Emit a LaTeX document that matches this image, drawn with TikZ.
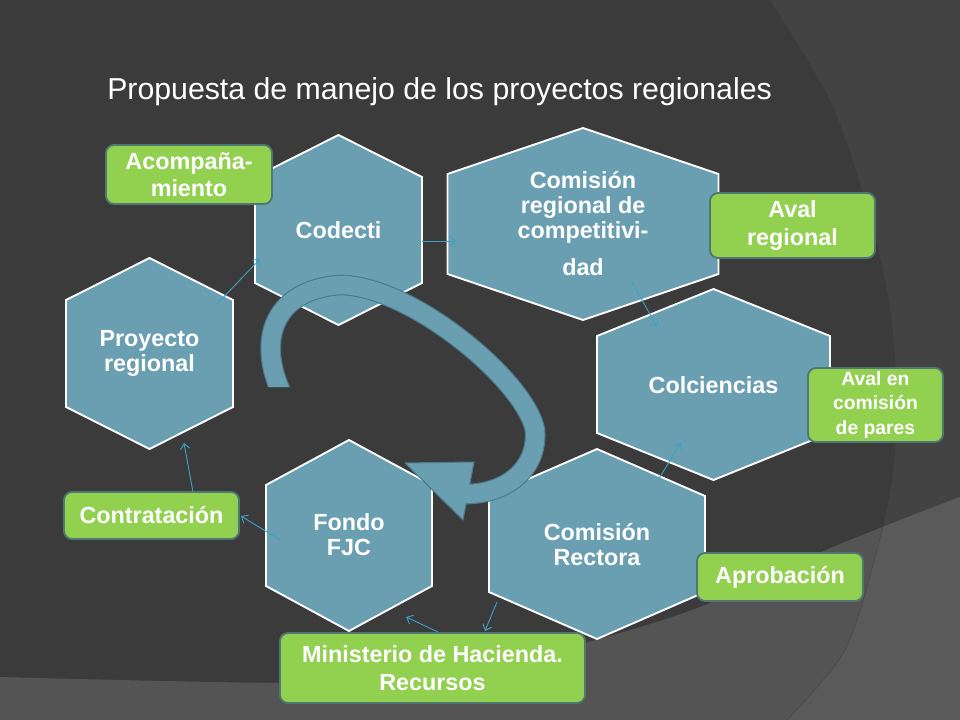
\documentclass[tikz,border=0pt]{standalone}
\usepackage{fontspec}
\setmainfont{Liberation Sans}
\usetikzlibrary{arrows.meta}
\definecolor{bgdark}{HTML}{3B3B3B}
\definecolor{bgright}{HTML}{434343}
\definecolor{bgbottom}{HTML}{545454}
\definecolor{bgbottomr}{HTML}{5A5A5A}
\definecolor{hexfill}{HTML}{6A9FB1}
\definecolor{hexdark}{HTML}{4A7B8C}
\definecolor{boxgreen}{HTML}{92D050}
\definecolor{boxedge}{HTML}{4F7873}
\definecolor{connblue}{HTML}{3FA0C4}
\tikzset{
 hexshape/.style={fill=hexfill, draw=white, line width=1.4pt, line join=miter},
 hextext/.style={text=white, font=\bfseries\fontsize{17.5}{18.75}\selectfont, align=center, inner sep=0pt},
 gbox/.style={fill=boxgreen, draw=boxedge, line width=1.4pt, rounded corners=6pt, text=white,
   font=\bfseries\fontsize{17.5}{20.5}\selectfont, align=center, inner sep=0pt},
 conn/.style={draw=connblue, line width=0.7pt, -{Straight Barb[length=4pt,width=7pt]}},
 bandpath/.style={line cap=butt},
}
\newcommand\hexagonshape[5]{%
 \path[hexshape] (#1,{#2-#4}) -- ({#1+#3},{#2-#4+#5}) -- ({#1+#3},{#2+#4-#5}) -- (#1,{#2+#4}) -- ({#1-#3},{#2+#4-#5}) -- ({#1-#3},{#2-#4+#5}) -- cycle;}
\newcommand\bandcurve{(286,402) .. controls (255,345) and (270,290) .. (340,285) .. controls (410,285) and (525,380) .. (535,430) .. controls (538,470) and (505,494) .. (466,494)}
\begin{document}
\begin{tikzpicture}[x=0.75pt,y=-0.75pt]
\useasboundingbox (0,0) rectangle (960,720);
\clip (0,0) rectangle (960,720);
% background
\fill[bgdark] (0,0) rectangle (960,720);
\fill[bgright] plot[smooth] coordinates {(770,0) (830,100) (865,200) (889,300) (897,400) (892,480) (877,550) (845,650) (787,720)} -- (960,720) -- (960,0) -- cycle;
\fill[bgbottom] plot[smooth] coordinates {(0,677) (300,683) (460,674) (585,643) (700,607) (833,547) (960,497)} -- (960,720) -- (0,720) -- cycle;
\begin{scope}
\clip plot[smooth] coordinates {(770,0) (830,100) (865,200) (889,300) (897,400) (892,480) (877,550) (845,650) (787,720)} -- (960,720) -- (960,0) -- cycle;
\fill[bgbottomr] plot[smooth] coordinates {(0,677) (300,683) (460,674) (585,643) (700,607) (833,547) (960,497)} -- (960,720) -- (0,720) -- cycle;
\end{scope}
\draw[black!75, line width=0.5pt, opacity=0.6] plot[smooth] coordinates {(770,0) (830,100) (865,200) (889,300) (897,400) (892,480) (877,550) (845,650) (787,720)};
% title
\node[anchor=base west, text=white, font=\fontsize{22.7}{27}\selectfont, inner sep=0pt] (title) at (107,100) {Propuesta de manejo de los proyectos regionales};
% hexagons
\hexagonshape{338.5}{230}{83.5}{95}{42}
\node[hextext] (codecti) at (338.5,230) {Codecti};
\hexagonshape{583}{224}{135.5}{96}{46}
\node[hextext] (comreg) at (583,224) {Comisión\\regional de\\competitivi-\\[9pt]dad};
\hexagonshape{713.5}{384.5}{116.5}{95.5}{47}
\node[hextext] (colc) at (713.5,385) {Colciencias};
\hexagonshape{597}{544}{108}{95}{47}
\node[hextext] (rectora) at (597,545) {Comisión\\Rectora};
\hexagonshape{349}{535.5}{83}{95.5}{45}
\node[hextext] (fondo) at (349,535) {Fondo\\FJC};
\hexagonshape{149.5}{353.5}{83.5}{95.5}{42}
\node[hextext] (proy) at (149.5,353) {Proyecto\\regional};
% curved arrow
\begin{scope}
\clip (0,0) -- (960,0) -- (960,720) -- (300,720) -- (300,387) -- (0,387) -- cycle;
\draw[bandpath, hexdark, line width=15.5pt] \bandcurve;
\filldraw[fill=hexfill, draw=hexdark, line width=0.8pt, line join=round] (405,463) -- (474,462) -- (463,520) -- cycle;
\draw[bandpath, hexfill, line width=13.8pt] \bandcurve;
\end{scope}
% green boxes
\node[gbox, minimum width=124.5pt, minimum height=44.25pt] (acomp) at (189,174.5) {Acompaña-\\miento};
\node[gbox, minimum width=123.75pt, minimum height=48.75pt] (avalreg) at (792.5,225.5) {Aval\\regional};
\node[gbox, minimum width=101.25pt, minimum height=55.5pt, font=\bfseries\fontsize{14.5}{18.5}\selectfont] (avalpar) at (875.5,405) {Aval en\\comisión\\de pares};
\node[gbox, minimum width=124.5pt, minimum height=36pt] (aprob) at (780,577) {Aprobación};
\node[gbox, minimum width=228.75pt, minimum height=52.5pt, font=\bfseries\fontsize{17.5}{21.5}\selectfont] (minist) at (432.5,668) {Ministerio de Hacienda.\\Recursos};
\node[gbox, minimum width=131.25pt, minimum height=35.25pt] (contrat) at (151.5,515.5) {Contratación};
% connectors
\coordinate (proyout) at (217,304);   \coordinate (codin) at (260,259);
\coordinate (codout) at (422,241);    \coordinate (comregin) at (456,241);
\coordinate (comregout) at (632,282); \coordinate (colcin) at (657,327);
\coordinate (rectout) at (658,480);   \coordinate (colcin2) at (681,443);
\coordinate (rectout2) at (497,602);  \coordinate (ministin) at (485,631);
\coordinate (ministout) at (438,632); \coordinate (fondoin) at (406,617);
\coordinate (fondoout) at (280,540);  \coordinate (contratin) at (241,516);
\coordinate (contratout) at (193,492);\coordinate (proyin) at (184,443);
\draw[conn] (proyout) -- (codin);
\draw[conn] (codout) -- (comregin);
\draw[conn] (comregout) -- (colcin);
\draw[conn] (rectout) -- (colcin2);
\draw[conn] (rectout2) -- (ministin);
\draw[conn] (ministout) -- (fondoin);
\draw[conn] (fondoout) -- (contratin);
\draw[conn] (contratout) -- (proyin);
\end{tikzpicture}
\end{document}
